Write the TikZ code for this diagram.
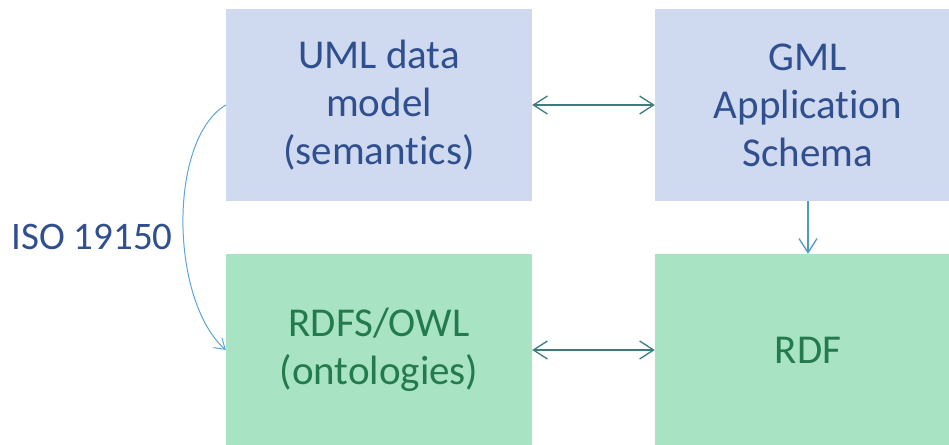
\documentclass[tikz,border=0pt]{standalone}
\usepackage{fontspec}
\setmainfont{Carlito}[Ligatures=NoCommon]
\usetikzlibrary{arrows.meta}

\definecolor{boxblue}{HTML}{CFD9F0}
\definecolor{boxgreen}{HTML}{A8E3C3}
\definecolor{txtblue}{HTML}{2F4F8F}
\definecolor{txtgreen}{HTML}{237A4C}
\definecolor{linkgray}{HTML}{3F7B7B}
\definecolor{linkblue}{HTML}{4A9CC4}
\definecolor{curveblue}{HTML}{5CA6D6}

\tikzset{
  block/.style={rectangle, minimum width=306pt, minimum height=192pt,
    inner sep=0pt, align=center, font=\fontsize{41}{48}\selectfont},
  blueblock/.style={block, fill=boxblue, text=txtblue},
  greenblock/.style={block, fill=boxgreen, text=txtgreen},
  barb/.style={line width=1.3pt, {Straight Barb[length=14pt,width=18pt]}-{Straight Barb[length=14pt,width=18pt]}},
  onebarb/.style={line width=1.3pt, -{Straight Barb[length=14pt,width=18pt]}},
  smallbarb/.style={line width=1pt, -{Straight Barb[length=10pt,width=13pt]}}
}

\begin{document}
\begin{tikzpicture}[x=1pt, y=-1pt]
  \clip (0,0) rectangle (949,444);
  \fill[white] (0,0) rectangle (949,444);

  \node[blueblock]  (uml)  at (379,105) {UML data\\model\\(semantics)};
  \node[blueblock]  (gml)  at (808,105) {GML\\Application\\Schema};
  \node[greenblock] (rdfs) at (379,350) {RDFS/OWL\\(ontologies)};
  \node[greenblock] (rdf)  at (808,350) {RDF};

  \node[text=txtblue, font=\fontsize{39}{46}\selectfont] (iso) at (92,237) {ISO 19150};

  \draw[barb, draw=linkgray] (uml.east) -- (gml.west);
  \draw[barb, draw=linkgray] (rdfs.east) -- (rdf.west);
  \draw[onebarb, draw=linkblue] (gml.south) -- (rdf.north);
  \draw[smallbarb, draw=curveblue]
    (uml.west) .. controls +(-58,35) and +(-56,-50) .. (rdfs.west);
\end{tikzpicture}
\end{document}
